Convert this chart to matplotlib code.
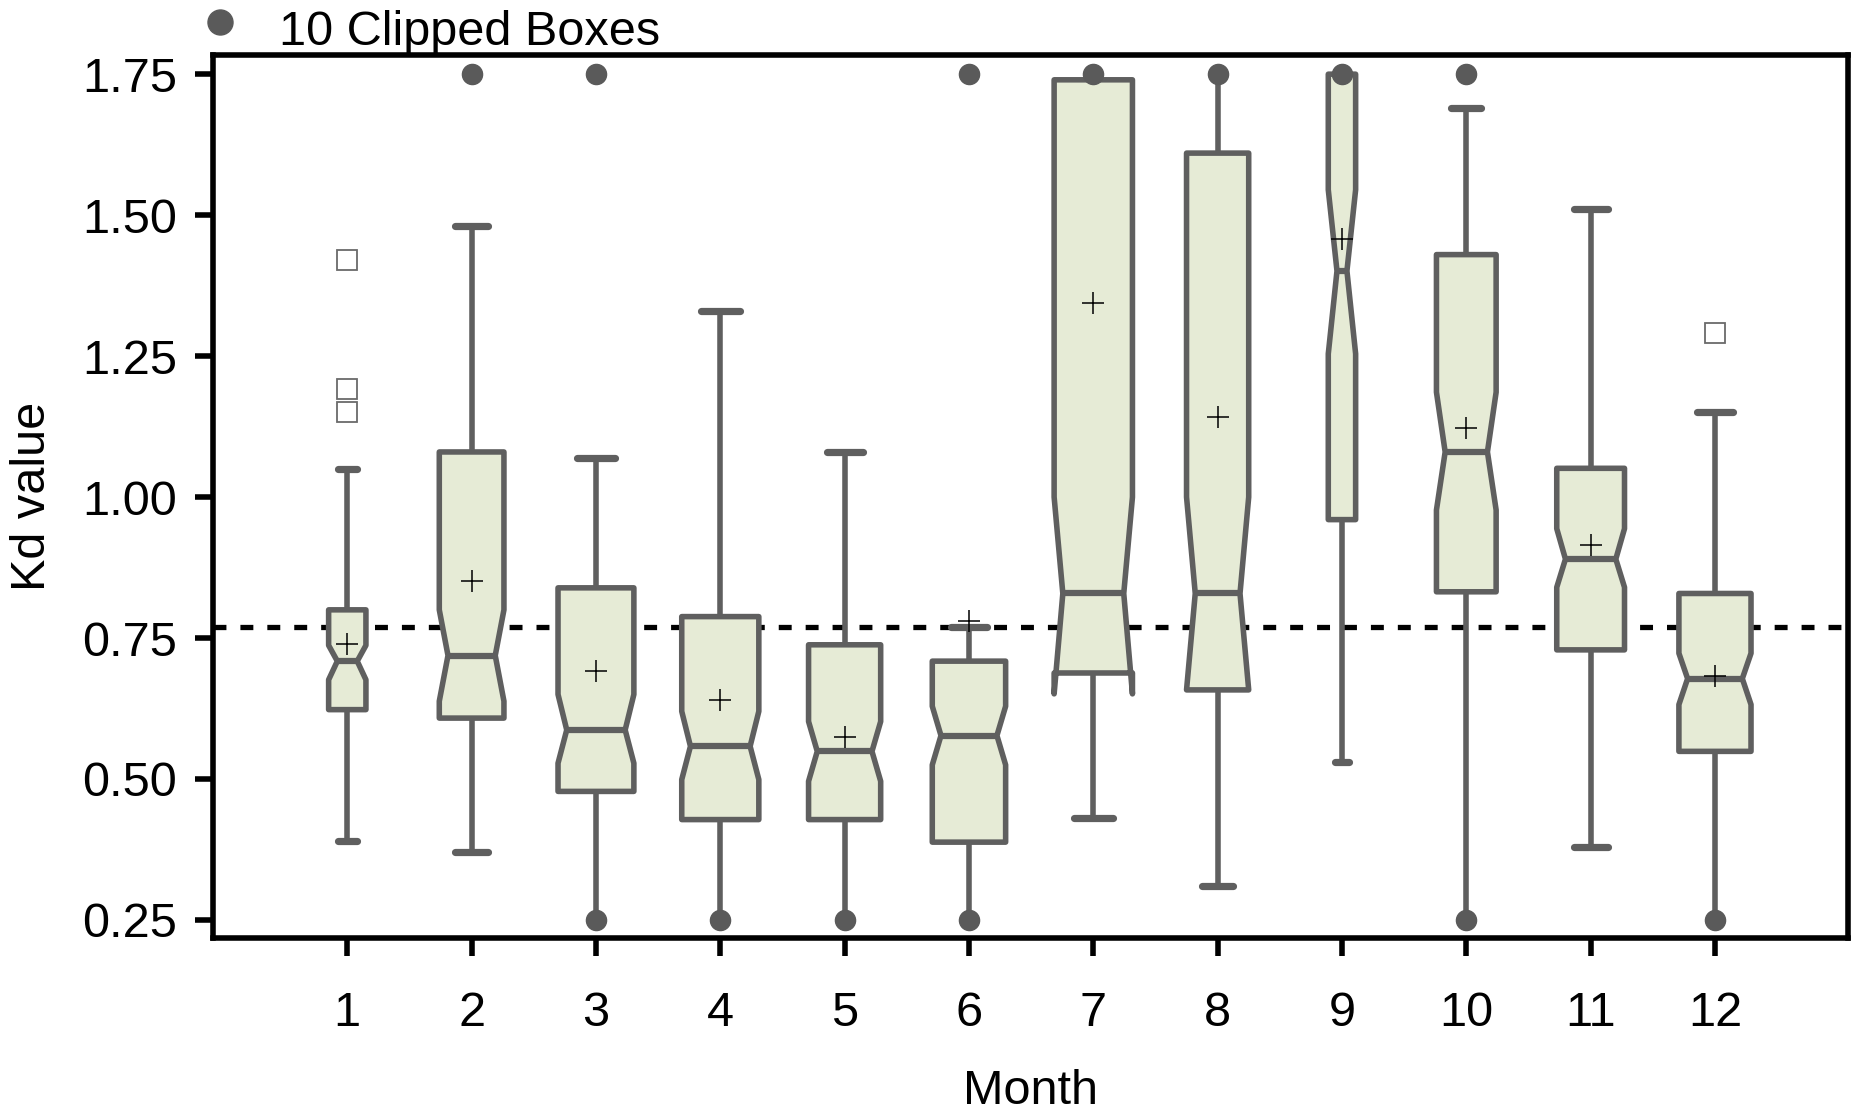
import matplotlib
matplotlib.use("Agg")
import matplotlib.pyplot as plt
from matplotlib.patches import Polygon
import numpy as np

# ---------------- data ----------------
months = [1, 2, 3, 4, 5, 6, 7, 8, 9, 10, 11, 12]
q1 = [0.623, 0.608, 0.478, 0.428, 0.428, 0.388, 0.688, 0.658, 0.960, 0.832, 0.729, 0.549]
median = [0.709, 0.719, 0.587, 0.558, 0.549, 0.577, 0.829, 0.829, 1.401, 1.080, 0.890, 0.678]
q3 = [0.800, 1.080, 0.839, 0.788, 0.738, 0.709, 1.740, 1.610, 1.750, 1.430, 1.051, 0.829]
notch_lo = [0.676, 0.638, 0.528, 0.499, 0.496, 0.525, 0.651, 0.658, 1.254, 0.977, 0.840, 0.632]
notch_hi = [0.737, 0.800, 0.650, 0.620, 0.602, 0.629, 1.000, 1.000, 1.545, 1.186, 0.944, 0.723]
means = [0.740, 0.852, 0.691, 0.640, 0.574, 0.780, 1.345, 1.142, 1.457, 1.123, 0.915, 0.682]
whisker_lo = [0.39, 0.37, 0.25, 0.25, 0.25, 0.25, 0.43, 0.31, 0.53, 0.25, 0.38, 0.25]
whisker_hi = [1.05, 1.48, 1.07, 1.33, 1.08, 0.77, 1.74, 1.75, 1.75, 1.69, 1.51, 1.15]
box_widths = [0.30, 0.52, 0.61, 0.62, 0.58, 0.59, 0.63, 0.50, 0.22, 0.48, 0.545, 0.58]
clipped_low = [0, 0, 1, 1, 1, 1, 0, 0, 0, 1, 0, 1]
clipped_high = [0, 1, 1, 0, 0, 1, 1, 1, 1, 1, 0, 0]
outlier_month = [1, 1, 1, 12]
outlier_value = [1.42, 1.191, 1.15, 1.291]
ref_value = 0.77
clip_min, clip_max = 0.25, 1.75
yticks = [0.25, 0.50, 0.75, 1.00, 1.25, 1.50, 1.75]
legend_text = "10 Clipped Boxes"

# ---------------- style ----------------
EDGE = "#5f5f5f"
FILL = "#e6ebd6"
LW = 4.0
CAP_LW = 5.2
NOTCH_INDENT = 0.07
FONT = "Liberation Sans"
FS = 35

plt.rcParams["font.family"] = [FONT, "DejaVu Sans"]

W, H = 1866, 1111
fig = plt.figure(figsize=(W / 100, H / 100), dpi=100)
ax_left, ax_right = 213 / W, 1848 / W
ax_bottom, ax_top = 1 - 938 / H, 1 - 55 / H
ax = fig.add_axes([ax_left, ax_bottom, ax_right - ax_left, ax_top - ax_bottom])

ax.axhline(ref_value, color="black", lw=3.8, ls=(0, (2.45, 2.65)), zorder=1)

for i, x in enumerate(months):
    w = box_widths[i]
    L, R = x - w / 2, x + w / 2
    il, ir = L + NOTCH_INDENT, R - NOTCH_INDENT
    verts = [(L, q1[i]), (R, q1[i]), (R, notch_lo[i]), (ir, median[i]),
             (R, notch_hi[i]), (R, q3[i]), (L, q3[i]), (L, notch_hi[i]),
             (il, median[i]), (L, notch_lo[i])]
    ax.add_patch(Polygon(verts, closed=True, facecolor=FILL, edgecolor=EDGE,
                         lw=LW, joinstyle="round", zorder=3))
    ax.plot([il, ir], [median[i], median[i]], color=EDGE, lw=LW + 0.5,
            solid_capstyle="butt", zorder=4)
    # whiskers
    if whisker_hi[i] > q3[i]:
        ax.plot([x, x], [q3[i], whisker_hi[i]], color=EDGE, lw=LW, zorder=2,
                solid_capstyle="butt")
        if whisker_hi[i] < clip_max:
            ax.plot([x - w / 4, x + w / 4], [whisker_hi[i]] * 2, color=EDGE,
                    lw=CAP_LW, solid_capstyle="round", zorder=4)
    if whisker_lo[i] < q1[i]:
        ax.plot([x, x], [whisker_lo[i], q1[i]], color=EDGE, lw=LW, zorder=2,
                solid_capstyle="butt")
        if whisker_lo[i] > clip_min:
            ax.plot([x - w / 4, x + w / 4], [whisker_lo[i]] * 2, color=EDGE,
                    lw=CAP_LW, solid_capstyle="round", zorder=4)
    # mean
    ax.plot(x, means[i], marker="+", ms=16, mew=1.1, color="black", zorder=6)

# clipped markers
hx = [m for m, c in zip(months, clipped_high) if c]
lx = [m for m, c in zip(months, clipped_low) if c]
ax.plot(hx, [clip_max] * len(hx), ls="none", marker="o", ms=14.5, color="#5a5a5a",
        mec="#5a5a5a", zorder=7, clip_on=False)
ax.plot(lx, [clip_min] * len(lx), ls="none", marker="o", ms=14.5, color="#5a5a5a",
        mec="#5a5a5a", zorder=7, clip_on=False)

# outliers
ax.plot(outlier_month, outlier_value, ls="none", marker="s", ms=14.5,
        mfc="white", mec="#6a6a6a", mew=1.3, zorder=5)

ax.set_xlim(-0.08, 13.07)
ax.set_ylim(0.218, 1.784)
ax.set_xticks(months)
ax.set_xticklabels([str(m) for m in months])
ax.set_yticks(yticks)
ax.set_yticklabels([f"{v:.2f}" for v in yticks])
for s in ax.spines.values():
    s.set_linewidth(4.0)
    s.set_color("black")
ax.tick_params(axis="both", direction="out", length=13, width=4.0, color="black",
               labelsize=FS, labelcolor="black")
ax.tick_params(axis="x", pad=25)
ax.tick_params(axis="y", pad=13)

# axis labels
cx = (ax_left + ax_right) / 2
fig.text(cx, 1 - 1104 / H, "Month", ha="center", va="baseline", fontsize=FS)
fig.text(33 / W, 1 - 496 / H, "Kd value", ha="center", va="center",
         rotation=90, fontsize=FS)

# legend
fig.add_artist(plt.Line2D([220 / W], [1 - 22 / H], marker="o", ms=18,
                          color="#5a5a5a", ls="none", transform=fig.transFigure))
fig.text(279 / W, 1 - 45 / H, legend_text, ha="left", va="baseline", fontsize=FS)

fig.savefig("out.png", dpi=100)
